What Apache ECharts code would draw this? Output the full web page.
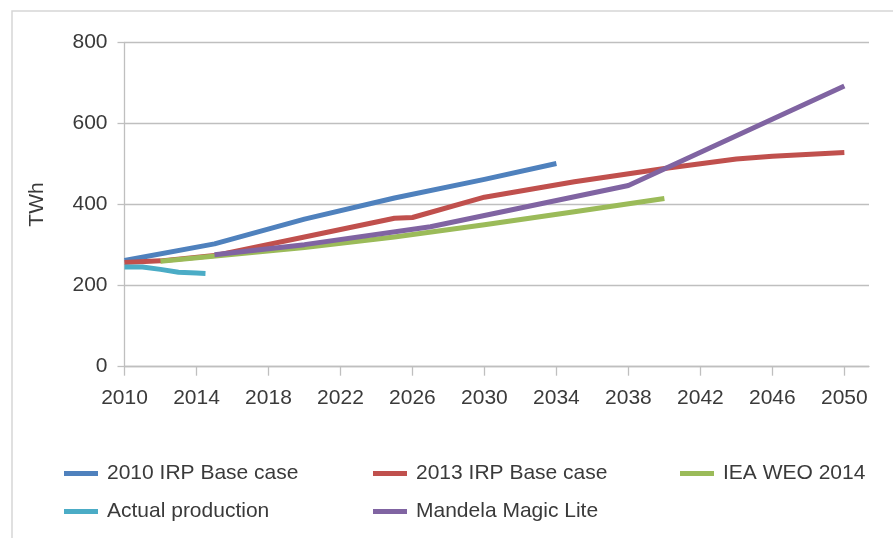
<!DOCTYPE html>
<html>
<head>
<meta charset="utf-8">
<title>Electricity demand scenarios (TWh)</title>
<script src="https://cdn.jsdelivr.net/npm/echarts@6/dist/echarts.min.js"></script>
<style>
  html, body { margin: 0; padding: 0; background: #fff; }
  #chart { width: 893px; height: 538px; }
</style>
</head>
<body>
<div id="chart"></div>
<script>
// Electricity demand projections, [year, TWh]
const irp2010Base = [[2010, 262], [2015, 303], [2020, 364], [2025, 416], [2030, 462], [2034, 501]];
const irp2013Base = [[2010, 257], [2012, 261], [2015, 274], [2020, 320], [2025, 366], [2026, 368],
                     [2030, 418], [2035, 456], [2040, 489], [2044, 512], [2046, 519], [2050, 528]];
const ieaWeo2014 = [[2012, 260], [2020, 294], [2025, 320], [2030, 350], [2035, 382], [2040, 415]];
const actualProduction = [[2010, 246], [2011, 246], [2012, 240], [2013, 233], [2014, 231], [2014.5, 230]];
const mandelaMagicLite = [[2015, 276], [2020, 301], [2027, 345], [2038, 447], [2050, 692]];

const seriesNames = ['2010 IRP Base case', '2013 IRP Base case', 'IEA WEO 2014', 'Actual production', 'Mandela Magic Lite'];
const seriesData = [irp2010Base, irp2013Base, ieaWeo2014, actualProduction, mandelaMagicLite];
const seriesColors = ['#4f81bd', '#c0504d', '#9bbb59', '#4bacc6', '#8064a2'];

const yearTicks = [2010, 2014, 2018, 2022, 2026, 2030, 2034, 2038, 2042, 2046, 2050];
const yTicks = [0, 200, 400, 600, 800];

const FONT = '"Liberation Sans", Arial, sans-serif';
const TEXT = '#3a3a3a';
const AXIS = '#bfbfbf';
const FS = 21;

// legend placement: three columns, two rows
const legendSlots = [
  { left: 64, top: 463 }, { left: 373, top: 463 }, { left: 680, top: 463 },
  { left: 64, top: 501 }, { left: 373, top: 501 }
];

const chart = echarts.init(document.getElementById('chart'), null, { renderer: 'canvas' });

chart.setOption({
  animation: false,
  backgroundColor: '#ffffff',
  graphic: [{
    type: 'rect',
    shape: { x: 12, y: 11, width: 900, height: 600 },
    style: { fill: 'none', stroke: '#d6d6d6', lineWidth: 1.5 },
    silent: true
  }],
  grid: { left: 124.5, top: 42.3, right: 24, bottom: 171.3, containLabel: false },
  legend: seriesNames.map((name, i) => ({
    data: [name],
    left: legendSlots[i].left,
    top: legendSlots[i].top,
    padding: 0,
    icon: 'rect',
    itemWidth: 34,
    itemHeight: 5,
    selectedMode: false,
    textStyle: { fontFamily: FONT, fontSize: FS, color: TEXT, padding: [0, 0, 0, 4] }
  })),
  xAxis: {
    type: 'value',
    min: 2010,
    max: 2051.37,
    interval: 4,
    axisLine: { show: true, lineStyle: { color: AXIS, width: 1.3 } },
    axisTick: { show: true, length: 9, customValues: yearTicks, lineStyle: { color: AXIS, width: 1.3 } },
    axisLabel: {
      customValues: yearTicks,
      margin: 21,
      fontFamily: FONT, fontSize: FS, color: TEXT,
      formatter: v => String(v)
    },
    splitLine: { show: false }
  },
  yAxis: {
    type: 'value',
    min: 0,
    max: 800,
    interval: 200,
    name: 'TWh',
    nameLocation: 'middle',
    nameGap: 77,
    nameRotate: 90,
    nameTextStyle: { fontFamily: FONT, fontSize: FS, color: TEXT },
    axisLine: { show: true, lineStyle: { color: AXIS, width: 1.3 } },
    axisTick: { show: true, length: 7, customValues: yTicks, lineStyle: { color: AXIS, width: 1.3 } },
    axisLabel: { margin: 17, fontFamily: FONT, fontSize: FS, color: TEXT },
    splitLine: { show: true, lineStyle: { color: AXIS, width: 1.3 } }
  },
  series: seriesNames.map((name, i) => ({
    name: name,
    type: 'line',
    data: seriesData[i],
    showSymbol: false,
    symbol: 'none',
    color: seriesColors[i],
    lineStyle: { color: seriesColors[i], width: 5, cap: 'butt', join: 'round' },
    silent: true
  }))
});
</script>
</body>
</html>
